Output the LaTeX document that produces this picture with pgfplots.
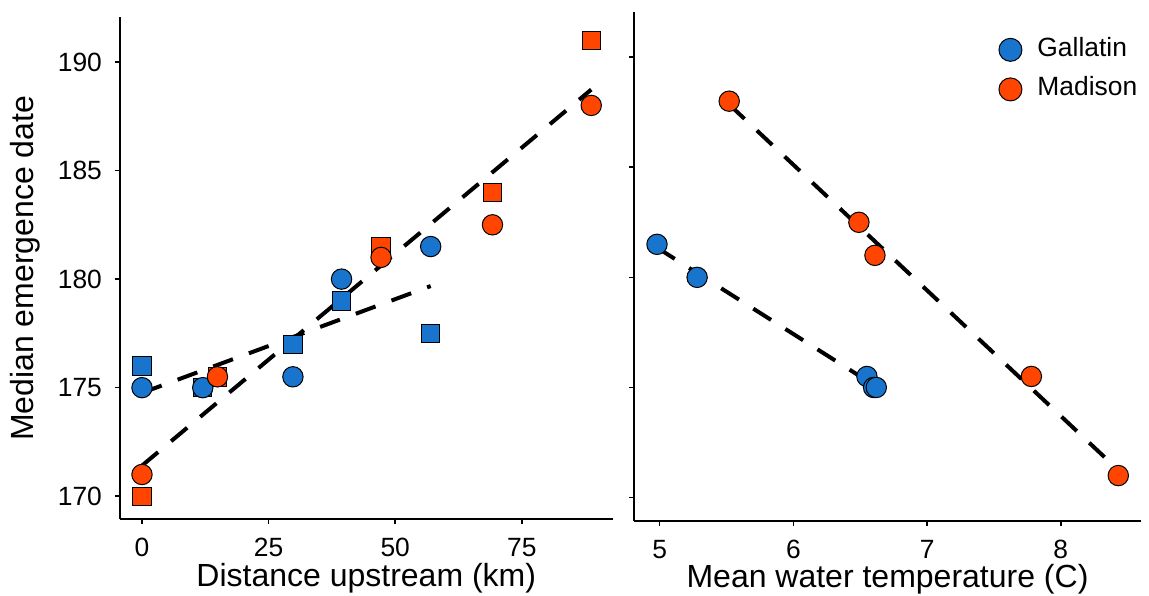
\documentclass[border=0pt]{standalone}
\usepackage{fontspec}
\setmainfont{Liberation Sans}
\usepackage{pgfplots}
\pgfplotsset{compat=1.18}

\definecolor{gal}{RGB}{24,116,205}
\definecolor{mad}{RGB}{255,69,0}

\pgfplotsset{
  panel/.style={
    scale only axis, anchor=south west, clip=false,
    axis x line*=bottom, axis y line*=left,
    axis line style={-, line width=1pt},
    tick align=outside, major tick length=2.5pt,
    tick style={line width=0.8pt, black},
    ymin=168.95, ymax=192.05,
    ytick={170,175,180,185,190},
    /pgf/number format/assume math mode=true,
    tick label style={font=\fontsize{13.2}{15}\selectfont},
    yticklabel style={anchor=east, inner sep=0pt, xshift=-6.1pt},
    xticklabel style={anchor=north, inner sep=0pt, yshift=-7pt},
    label style={font=\fontsize{16}{19}\selectfont, inner sep=0pt},
  },
  fit/.style={black, line width=2pt, dash pattern=on 10.5pt off 8.5pt, forget plot},
  sq/.style={only marks, mark=square*, mark size=4.6pt,
    mark options={fill=#1, draw=black, line width=0.5pt}},
  ci/.style={only marks, mark=*, mark size=5.1pt,
    mark options={fill=#1, draw=black, line width=0.5pt}},
}

\begin{document}
\begin{tikzpicture}
\path[use as bounding box] (0,0) rectangle (574.5pt,297.5pt);

% left panel: distance upstream
\begin{axis}[panel,
  at={(59.75pt,38pt)}, width=246.75pt, height=250.75pt,
  xmin=-4.44, xmax=93.0, xtick={0,25,50,75},
  xlabel={Distance upstream (km)},
  ylabel={Median emergence date},
  xlabel style={at={(axis description cs:0.5,-0.1336)}, anchor=base},
  ylabel style={at={(axis description cs:-0.1743,0.5)}, anchor=base},
]
\addplot[fit] coordinates {(0,174.76) (57,179.68)};
\addplot[fit] coordinates {(0,171.41) (88.7,188.73)};
% squares
\addplot[sq=gal] coordinates {(0,176) (12,175) (29.8,177) (39.4,179) (57,177.5)};
\addplot[sq=mad] coordinates {(0,170) (14.9,175.5) (47.2,181.5) (69.2,184) (88.7,191)};
% circles
\addplot[ci=gal] coordinates {(0,175) (12,175) (29.8,175.5) (39.4,180) (57,181.5)};
\addplot[ci=mad] coordinates {(0,171) (14.9,175.5) (47.2,181) (69.2,182.5) (88.7,188)};
\end{axis}

% right panel: water temperature
\begin{axis}[panel,
  at={(317pt,37.15pt)}, width=253.5pt, height=254.35pt,
  xmin=4.808, xmax=8.60, xtick={5,6,7,8},
  yticklabels={},
  xlabel={Mean water temperature (C)},
  xlabel style={at={(axis description cs:0.5,-0.1317)}, anchor=base},
  legend style={at={(axis description cs:0.719,0.949)}, anchor=north west,
    draw=none, fill=none, inner sep=0pt, column sep=7.75pt, row sep=7.8pt,
    nodes={inner sep=0pt, text height=8pt, text depth=3pt},
    font=\fontsize{13.2}{15}\selectfont},
  legend cell align=left,
  legend image code/.code={\draw[#1, only marks, mark size=5.75pt] plot coordinates {(0pt,0.74pt)};},
]
\addplot[fit] coordinates {(4.98,181.35) (6.62,175.04)};
\addplot[fit] coordinates {(5.52,187.85) (8.43,171.25)};
\addplot[ci=gal] coordinates {(4.98,181.5) (5.28,180) (6.55,175.5) (6.60,175) (6.62,175)};
\addlegendentry{Gallatin}
\addplot[ci=mad] coordinates {(5.52,188) (6.49,182.5) (6.61,181) (7.78,175.5) (8.43,171)};
\addlegendentry{Madison}
\end{axis}
\end{tikzpicture}
\end{document}
